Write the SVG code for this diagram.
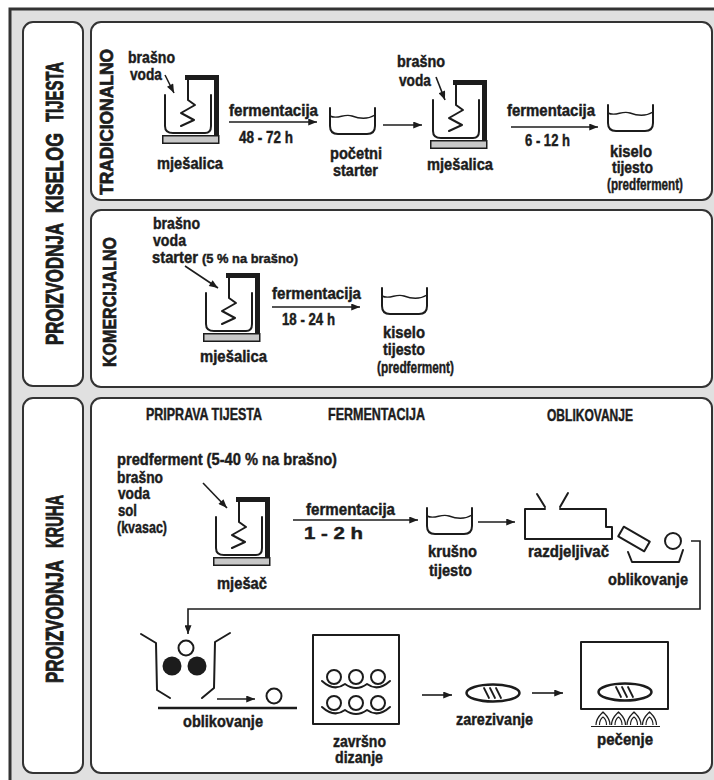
<svg xmlns="http://www.w3.org/2000/svg" width="714" height="780" viewBox="0 0 714 780">
<defs>
<style>
.t{font-family:"Liberation Sans Narrow","Liberation Sans",Arial,sans-serif;font-weight:bold;font-size:16.5px;fill:#1c1c1c;stroke:#1c1c1c;stroke-width:0.45px}
.s{font-size:13.5px}
.h{font-size:23px;stroke-width:0.9px}
.v{font-size:19px;stroke-width:0.7px}
.pn{fill:#fff;stroke:#333;stroke-width:2}
.ln{fill:none;stroke:#1c1c1c;stroke-width:2;stroke-linejoin:round;stroke-linecap:round}
.th{fill:none;stroke:#1c1c1c;stroke-width:1.4;stroke-linejoin:round}
.ar{fill:none;stroke:#1c1c1c;stroke-width:1.6;marker-end:url(#ah)}
.dk{fill:#1c1c1c}
.base{fill:#c8c8c8;stroke:#1c1c1c;stroke-width:1.5}
</style>
<marker id="ah" viewBox="0 0 10 8" refX="10" refY="4" markerWidth="10" markerHeight="7" orient="auto" markerUnits="userSpaceOnUse"><path d="M0,0 L10,4 L0,8 z" fill="#1c1c1c"/></marker>
<g id="mixer-icon">
<rect x="23" y="0" width="34" height="5" class="dk"/>
<rect x="52" y="0" width="5" height="60" class="dk"/>
<path d="M3,20 V51 Q3,58 11,58 H43 Q49,58 49,51 V20" class="ln"/>
<path d="M26,5 V25 L33,30 L19,38 L32,45 L19,51" class="ln"/>
<rect x="0.75" y="60.75" width="56" height="7.5" class="base"/>
</g>
<g id="bowl-icon">
<path d="M0,0 V18 Q0,26 8,26 H37 Q45,26 45,18 V0" class="ln"/>
<path d="M0,8 C8,12 14,5 22,8 S37,12 45,7" class="th"/>
</g>
<g id="loaf-icon">
<ellipse cx="0" cy="0" rx="26.5" ry="8.5" fill="none" stroke="#1c1c1c" stroke-width="2.5"/>
<path d="M-9,-5 L-4,5 M-3,-5 L2,5 M3,-5 L8,5" class="ln" style="stroke-width:1.8"/>
</g>
<g id="flame-icon">
<path d="M-7,13 C-7,6 -3,3 0,0 C3,3 7,6 7,13 M-3.5,13 C-3.5,9 -1.5,6 0,5 C1.5,6 3.5,9 3.5,13" class="th" style="stroke-width:1.2"/>
</g>
</defs>

<g id="frame">
<rect x="10" y="9" width="720" height="790" fill="#e0e0e0" stroke="#333" stroke-width="3"/>
<rect x="23" y="22" width="60" height="364" rx="10" class="pn"/>
<rect x="23" y="398" width="60" height="375" rx="10" class="pn"/>
<rect x="91" y="22" width="621" height="178" rx="10" class="pn"/>
<rect x="91" y="210" width="621" height="177" rx="10" class="pn"/>
<rect x="91" y="398" width="621" height="375" rx="10" class="pn"/>
</g>

<g id="section-titles">
<text class="t h" transform="translate(63,284) rotate(-90)" text-anchor="middle" textLength="122" lengthAdjust="spacingAndGlyphs">PROIZVODNJA</text>
<text class="t h" transform="translate(63,173) rotate(-90)" text-anchor="middle" textLength="80" lengthAdjust="spacingAndGlyphs">KISELOG</text>
<text class="t h" transform="translate(63,92) rotate(-90)" text-anchor="middle" textLength="60" lengthAdjust="spacingAndGlyphs">TIJESTA</text>
<text class="t h" transform="translate(63,621.5) rotate(-90)" text-anchor="middle" textLength="123" lengthAdjust="spacingAndGlyphs">PROIZVODNJA</text>
<text class="t h" transform="translate(63,521.5) rotate(-90)" text-anchor="middle" textLength="53" lengthAdjust="spacingAndGlyphs">KRUHA</text>
<text class="t v" transform="translate(112.5,122) rotate(-90)" text-anchor="middle" textLength="146" lengthAdjust="spacingAndGlyphs">TRADICIONALNO</text>
<text class="t v" transform="translate(116,302) rotate(-90)" text-anchor="middle" textLength="130" lengthAdjust="spacingAndGlyphs">KOMERCIJALNO</text>
<text class="t" x="146" y="420" textLength="116" lengthAdjust="spacingAndGlyphs">PRIPRAVA TIJESTA</text>
<text class="t" x="328" y="420" textLength="97" lengthAdjust="spacingAndGlyphs">FERMENTACIJA</text>
<text class="t" x="547" y="421" textLength="86" lengthAdjust="spacingAndGlyphs">OBLIKOVANJE</text>
</g>

<g id="trad-mixer1">
<text class="t" x="128" y="63" textLength="47" lengthAdjust="spacingAndGlyphs">brašno</text>
<text class="t" x="130" y="80" textLength="32" lengthAdjust="spacingAndGlyphs">voda</text>
<use href="#mixer-icon" x="162" y="75"/>
<text class="t" x="157" y="169" textLength="66" lengthAdjust="spacingAndGlyphs">mješalica</text>
</g>
<g id="trad-starter">
<use href="#bowl-icon" x="330" y="108"/>
<text class="t" x="330" y="159" textLength="52" lengthAdjust="spacingAndGlyphs">početni</text>
<text class="t" x="333" y="176" textLength="45" lengthAdjust="spacingAndGlyphs">starter</text>
</g>
<g id="trad-mixer2">
<text class="t" x="397" y="67" textLength="48" lengthAdjust="spacingAndGlyphs">brašno</text>
<text class="t" x="399" y="86" textLength="32" lengthAdjust="spacingAndGlyphs">voda</text>
<use href="#mixer-icon" x="430" y="80"/>
<text class="t" x="427" y="170" textLength="66" lengthAdjust="spacingAndGlyphs">mješalica</text>
</g>
<g id="trad-sourdough">
<use href="#bowl-icon" x="608" y="105"/>
<text class="t" x="610" y="157" textLength="42" lengthAdjust="spacingAndGlyphs">kiselo</text>
<text class="t" x="612" y="173" textLength="41" lengthAdjust="spacingAndGlyphs">tijesto</text>
<text class="t" x="607" y="190" textLength="76" lengthAdjust="spacingAndGlyphs">(predferment)</text>
</g>

<g id="kom-mixer">
<text class="t" x="153" y="229" textLength="47" lengthAdjust="spacingAndGlyphs">brašno</text>
<text class="t" x="153" y="246" textLength="33" lengthAdjust="spacingAndGlyphs">voda</text>
<text class="t" x="152" y="263" textLength="46" lengthAdjust="spacingAndGlyphs">starter</text>
<text class="t s" x="202" y="263" textLength="96" lengthAdjust="spacingAndGlyphs">(5 % na brašno)</text>
<use href="#mixer-icon" x="203" y="273"/>
<text class="t" x="200" y="362" textLength="67" lengthAdjust="spacingAndGlyphs">mješalica</text>
</g>
<g id="kom-sourdough">
<use href="#bowl-icon" x="382" y="288"/>
<text class="t" x="383" y="338" textLength="42" lengthAdjust="spacingAndGlyphs">kiselo</text>
<text class="t" x="383" y="355" textLength="42" lengthAdjust="spacingAndGlyphs">tijesto</text>
<text class="t" x="377" y="373" textLength="77" lengthAdjust="spacingAndGlyphs">(predferment)</text>
</g>

<g id="bread-mixer">
<text class="t" x="117" y="465" textLength="220" lengthAdjust="spacingAndGlyphs">predferment (5-40 % na brašno)</text>
<text class="t" x="117" y="483" textLength="46" lengthAdjust="spacingAndGlyphs">brašno</text>
<text class="t" x="118" y="499" textLength="32" lengthAdjust="spacingAndGlyphs">voda</text>
<text class="t" x="118" y="516" textLength="19" lengthAdjust="spacingAndGlyphs">sol</text>
<text class="t" x="117" y="533" textLength="50" lengthAdjust="spacingAndGlyphs">(kvasac)</text>
<use href="#mixer-icon" x="213" y="497"/>
<text class="t" x="217" y="589" textLength="50" lengthAdjust="spacingAndGlyphs">mješač</text>
</g>
<g id="bread-dough">
<use href="#bowl-icon" x="427" y="508"/>
<text class="t" x="428" y="557" textLength="49" lengthAdjust="spacingAndGlyphs">krušno</text>
<text class="t" x="429" y="576" textLength="43" lengthAdjust="spacingAndGlyphs">tijesto</text>
</g>
<g id="divider">
<path d="M537,494 L545,507 M568,493 L560,507" class="ln"/>
<path d="M545,509 H525 V539 H612 V527 H606 V509 H560" class="ln"/>
<text class="t" x="528" y="557" textLength="81" lengthAdjust="spacingAndGlyphs">razdjeljivač</text>
</g>
<g id="shaper">
<rect x="619" y="533.5" width="30" height="11" transform="rotate(30 634 539)" class="ln"/>
<circle cx="673" cy="541" r="8" class="ln"/>
<path d="M628,552 L632,562 H679 L683,550" class="ln"/>
<text class="t" x="608" y="585" textLength="80" lengthAdjust="spacingAndGlyphs">oblikovanje</text>
</g>
<g id="rounder">
<path d="M141,634 L156,643 L157,690 L170,698 M230,633 L215,642 L214,688 L202,698" class="ln"/>
<circle cx="186" cy="648" r="7.5" class="ln"/>
<circle cx="172" cy="666" r="9.5" class="dk"/>
<circle cx="197" cy="666" r="9.5" class="dk"/>
<circle cx="274" cy="696" r="7.5" class="ln"/>
<path d="M158,708 H297" stroke="#1c1c1c" stroke-width="2.5"/>
<text class="t" x="183" y="727" textLength="80" lengthAdjust="spacingAndGlyphs">oblikovanje</text>
</g>
<g id="proofing">
<rect x="313" y="635" width="86" height="89" class="ln"/>
<circle cx="334" cy="677" r="7" class="ln"/>
<circle cx="356" cy="677" r="7" class="ln"/>
<circle cx="378" cy="677" r="7" class="ln"/>
<path d="M322,681 Q334,692 345,684 Q356,692 367,684 Q378,692 390,681" class="ln"/>
<circle cx="334" cy="703" r="7" class="ln"/>
<circle cx="356" cy="703" r="7" class="ln"/>
<circle cx="378" cy="703" r="7" class="ln"/>
<path d="M322,707 Q334,718 345,710 Q356,718 367,710 Q378,718 390,707" class="ln"/>
<text class="t" x="333" y="747" textLength="53" lengthAdjust="spacingAndGlyphs">završno</text>
<text class="t" x="335" y="763" textLength="48" lengthAdjust="spacingAndGlyphs">dizanje</text>
</g>
<g id="scoring">
<use href="#loaf-icon" x="493" y="693"/>
<text class="t" x="456" y="725" textLength="77" lengthAdjust="spacingAndGlyphs">zarezivanje</text>
</g>
<g id="baking">
<rect x="581" y="642" width="87" height="67" class="ln"/>
<use href="#loaf-icon" x="625" y="692"/>
<use href="#flame-icon" x="603" y="712"/>
<use href="#flame-icon" x="618.5" y="712"/>
<use href="#flame-icon" x="634" y="712"/>
<use href="#flame-icon" x="649.5" y="712"/>
<path d="M591,726.5 H660" stroke="#1c1c1c" stroke-width="1.2"/>
<text class="t" x="597" y="745" textLength="56" lengthAdjust="spacingAndGlyphs">pečenje</text>
</g>

<g id="connectors">
<path d="M165,75 L174,93" class="ar"/>
<path d="M436,77 L445,100" class="ar"/>
<path d="M185,266 L218,288" class="ar"/>
<path d="M203,483 L227,508" class="ar"/>
<path d="M229,122 H317" class="ar"/>
<text class="t" x="229" y="116" textLength="89" lengthAdjust="spacingAndGlyphs">fermentacija</text>
<text class="t" x="239" y="143" textLength="54" lengthAdjust="spacingAndGlyphs">48 - 72 h</text>
<path d="M383,125 H422" class="ar"/>
<path d="M511,127 H598" class="ar"/>
<text class="t" x="507" y="116" textLength="88" lengthAdjust="spacingAndGlyphs">fermentacija</text>
<text class="t" x="525" y="146" textLength="45" lengthAdjust="spacingAndGlyphs">6 - 12 h</text>
<path d="M272,307 H360" class="ar"/>
<text class="t" x="272" y="299" textLength="89" lengthAdjust="spacingAndGlyphs">fermentacija</text>
<text class="t" x="282" y="325" textLength="53" lengthAdjust="spacingAndGlyphs">18 - 24 h</text>
<path d="M293,520 H418" class="ar"/>
<text class="t" x="306" y="515" textLength="89" lengthAdjust="spacingAndGlyphs">fermentacija</text>
<text class="t" x="304" y="539" textLength="59" lengthAdjust="spacingAndGlyphs">1 - 2 h</text>
<path d="M478,522 H515" class="ar"/>
<path d="M691,541 H700 V609 H188 V634" class="ar"/>
<path d="M217,699 H255" class="ar"/>
<path d="M422,695 H452" class="ar"/>
<path d="M532,693 H563" class="ar"/>
</g>
</svg>
